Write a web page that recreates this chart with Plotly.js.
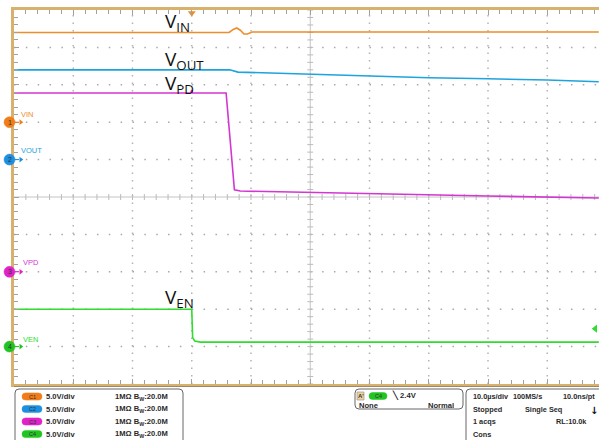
<!DOCTYPE html>
<html><head><meta charset="utf-8">
<script src="https://cdn.plot.ly/plotly-3.0.1.min.js"></script>
<style>html,body{margin:0;padding:0;background:#fff}#chart{width:599px;height:440px}</style>
</head><body><div id="chart"></div>
<script>
// ---- data: time in µs (trigger at 0), voltages in V ----
const tVin  = [-30, 6.3, 7.0, 7.6, 8.2, 8.8, 9.4, 10.2, 68.7];
const vVin  = [12.0, 12.0, 12.4, 12.6, 12.3, 11.8, 11.8, 12.05, 12.05];
const tVout = [-30, 6.4, 7.8, 18.3, 30.1, 40.0, 50.0, 60.0, 68.7];
const vVout = [12.0, 12.0, 11.7, 11.45, 11.2, 10.95, 10.8, 10.65, 10.4];
const tVpd  = [-30, -0.15, 0, 0.15, 5.8, 7.2, 8.2, 18.3, 33.5, 50.0, 68.7];
const vVpd  = [23.9, 23.9, 24.3, 23.9, 23.9, 10.95, 10.8, 10.67, 10.4, 10.13, 9.87];
const tVen  = [-30, 0, 0.15, 0.5, 1.5, 68.7];
const vVen  = [5.0, 5.0, 1.2, 0.75, 0.6, 0.6];
const chNames = ['VIN', 'VOUT', 'VPD', 'VEN'];
const chIds = ['C1', 'C2', 'C3', 'C4'];
const chNums = ['1', '2', '3', '4'];
const chScale = ['5.0V/div', '5.0V/div', '5.0V/div', '5.0V/div'];
const chInput = ['1MΩ B<sub>W</sub>:20.0M', '1MΩ B<sub>W</sub>:20.0M', '1MΩ B<sub>W</sub>:20.0M', '1MΩ B<sub>W</sub>:20.0M'];
const voltsPerDiv = 5;
const trigLevel = 2.4;
const trigText = '╲ 2.4V';
const statusRows = [['10.0µs/div', '100MS/s', '10.0ns/pt'], ['Stopped', 'Single Seq', ''], ['1 acqs', '', 'RL:10.0k'], ['Cons', '', '']];

// ---- style / layout ----
const colors = ['#ec8e2c', '#1ea3dd', '#d336d3', '#2fdc2f'];
const markColors = ['#f07d18', '#1d8fe0', '#e022c8', '#22c422'];
const offsets = [2, 1, -2, -4]; // ground reference in divisions
const X0 = -30, X1 = -30 + 585 / 5.925;
const PX = px => (px - 14) / 585;
const PY = py => (384 - py) / 374;
const tOfPx = px => (px - 13.75) / 5.925 - 30;
const pyOfDiv = d => 197 - d * 37.4;
const tan = '#d8b26c';

const series = [[tVin, vVin], [tVout, vVout], [tVpd, vVpd], [tVen, vVen]];
const traces = series.map((s, i) => ({
  x: s[0], y: s[1].map(v => offsets[i] + v / voltsPerDiv),
  mode: 'lines', line: {color: colors[i], width: 1.6}, hoverinfo: 'skip', showlegend: false
}));
traces.push({
  x: chNames.map(() => tOfPx(20.5)), y: offsets, mode: 'markers', cliponaxis: false,
  marker: {symbol: 'triangle-right', size: 5, color: markColors}, hoverinfo: 'skip', showlegend: false
});
// trigger markers
traces.push({
  x: [0], y: [5 - 3 / 37.4], mode: 'markers', cliponaxis: false,
  marker: {symbol: 'triangle-down', size: 7, color: colors[0]}, hoverinfo: 'skip', showlegend: false
});
traces.push({
  x: [tOfPx(595)], y: [offsets[3] + trigLevel / voltsPerDiv], mode: 'markers', cliponaxis: false,
  marker: {symbol: 'triangle-left', size: 7, color: colors[3]}, hoverinfo: 'skip', showlegend: false
});

const shapes = [];
// dotted grid
[-20, -10, 0, 10, 30, 40, 50, 60].forEach(t => shapes.push({type: 'line', xref: 'x', yref: 'y', x0: t, x1: t, y0: -5, y1: 5,
  line: {color: '#b4b4b4', width: 1.5, dash: '1.5px,6px'}, layer: 'below'}));
[-4, -3, -2, -1, 1, 2, 3, 4].forEach(d => shapes.push({type: 'line', xref: 'x', yref: 'y', x0: X0, x1: X1, y0: d, y1: d,
  line: {color: '#a8a8a8', width: 1.5, dash: '1.5px,10.35px'}, layer: 'below'}));
// center axes
shapes.push({type: 'line', xref: 'x', yref: 'y', x0: 20, x1: 20, y0: -5, y1: 5, line: {color: '#c4c4c4', width: 1}, layer: 'below'});
shapes.push({type: 'line', xref: 'x', yref: 'y', x0: X0, x1: X1, y0: 0, y1: 0, line: {color: '#c4c4c4', width: 1}, layer: 'below'});
for (let k = -25; k <= 25; k++) shapes.push({type: 'line', xref: 'x', yref: 'y', x0: 19.5, x1: 20.5, y0: k * 0.2, y1: k * 0.2, line: {color: '#bbb', width: 1}, layer: 'below'});
for (let t = -28; t < X1; t += 2) shapes.push({type: 'line', xref: 'x', yref: 'y', x0: t, x1: t, y0: -0.08, y1: 0.08, line: {color: '#bbb', width: 1}, layer: 'below'});
// channel ground markers: stems and circles
offsets.forEach((o, i) => {
  const py = pyOfDiv(o);
  shapes.push({type: 'line', xref: 'paper', yref: 'paper', x0: PX(14), x1: PX(19), y0: PY(py), y1: PY(py), line: {color: markColors[i], width: 1}});
  shapes.push({type: 'circle', xref: 'paper', yref: 'paper', x0: PX(4), x1: PX(15), y0: PY(py - 5.5), y1: PY(py + 5.5), fillcolor: markColors[i], line: {color: markColors[i], width: 0.5}});
});

// helpers for bottom panel (pixel -> paper)
const P = (x, y) => PX(x) + ',' + PY(y);
function rr(x0, y0, x1, y1, r) {
  return 'M' + P(x0 + r, y0) + ' L' + P(x1 - r, y0) + ' Q' + P(x1, y0) + ' ' + P(x1, y0 + r) +
    ' L' + P(x1, y1 - r) + ' Q' + P(x1, y1) + ' ' + P(x1 - r, y1) + ' L' + P(x0 + r, y1) +
    ' Q' + P(x0, y1) + ' ' + P(x0, y1 - r) + ' L' + P(x0, y0 + r) + ' Q' + P(x0, y0) + ' ' + P(x0 + r, y0) + ' Z';
}
// bottom line under frame
shapes.push({type: 'line', xref: 'paper', yref: 'paper', x0: PX(14), x1: PX(599), y0: PY(386.5), y1: PY(386.5), line: {color: '#9a8a6a', width: 1}});
// left box (open at bottom)
shapes.push({type: 'path', xref: 'paper', yref: 'paper',
  path: 'M' + P(15, 445) + ' L' + P(15, 393) + ' Q' + P(15, 389) + ' ' + P(19, 389) + ' L' + P(179, 389) + ' Q' + P(183, 389) + ' ' + P(183, 393) + ' L' + P(183, 445),
  line: {color: '#666', width: 1}});
// middle box
shapes.push({type: 'path', xref: 'paper', yref: 'paper', path: rr(355, 389, 463, 409, 4), line: {color: '#666', width: 1}});
// right box
shapes.push({type: 'path', xref: 'paper', yref: 'paper',
  path: 'M' + P(466, 445) + ' L' + P(466, 393) + ' Q' + P(466, 389) + ' ' + P(470, 389) + ' L' + P(605, 389),
  line: {color: '#666', width: 1}});
// channel pills
const rowsY = [396.5, 409, 421.5, 434];
chIds.forEach((c, i) => shapes.push({type: 'path', xref: 'paper', yref: 'paper', path: rr(22, rowsY[i] - 3.6, 42, rowsY[i] + 3.6, 3.6), fillcolor: markColors[i], line: {color: markColors[i], width: 0.5}}));
// trigger A' box and C4 pill
shapes.push({type: 'rect', xref: 'paper', yref: 'paper', x0: PX(357), x1: PX(364), y0: PY(392), y1: PY(400), fillcolor: '#efd39a', line: {color: '#999', width: 0.7}});
shapes.push({type: 'path', xref: 'paper', yref: 'paper', path: rr(369, 392.5, 387, 399.5, 3.5), fillcolor: markColors[3], line: {color: markColors[3], width: 0.5}});

const ann = [];
const A = (text, px, py, opt) => ann.push(Object.assign({text, x: PX(px), y: PY(py), xref: 'paper', yref: 'paper', xanchor: 'left', yanchor: 'middle', showarrow: false,
  font: {family: 'Liberation Sans', size: 7.6, color: '#2a2a2a', weight: 'bold'}}, opt || {}));
// big labels
const big = {font: {family: 'Open Sans', size: 19, color: '#111'}};
A('V<sub>IN</sub>', 163, 22, big);
A('V<sub>OUT</sub>', 163, 60, big);
A('V<sub>PD</sub>', 163, 84, big);
A('V<sub>EN</sub>', 163, 298, big);
// channel labels and ground numbers
const chLblPos = [[19, 114], [19, 151], [21, 262], [21, 339]];
chNames.forEach((n, i) => {
  A(n, chLblPos[i][0], chLblPos[i][1], {font: {family: 'Liberation Sans', size: 7.5, color: colors[i]}});
  A(chNums[i], 9.5, pyOfDiv(offsets[i]), {xanchor: 'center', font: {family: 'Liberation Sans', size: 7, color: '#333'}});
});
// left box rows
chIds.forEach((c, i) => {
  A(c, 32, rowsY[i], {xanchor: 'center', font: {family: 'Liberation Sans', size: 5.5, color: '#333'}});
  A(chScale[i], 44, rowsY[i]);
  A(chInput[i], 113, rowsY[i]);
});
// trigger box
A("A'", 360.5, 396, {xanchor: 'center', font: {family: 'Liberation Sans', size: 6, color: '#333', weight: 'bold'}});
A('C4', 378, 396, {xanchor: 'center', font: {family: 'Liberation Sans', size: 5.5, color: '#333'}});
A(trigText, 390, 396);
A('None', 357, 405.5);
A('Normal', 426, 405.5);
// status box
const sFont = {font: {family: 'Liberation Sans', size: 7.3, color: '#2a2a2a', weight: 'bold'}};
statusRows.forEach((row, r) => {
  if (row[0]) A(row[0], 471, rowsY[r], sFont);
  if (row[1]) A(row[1], r === 0 ? 511 : 523, rowsY[r], sFont);
  if (row[2]) A(row[2], r === 0 ? 561 : 554, rowsY[r], sFont);
});
A('↓', 588, 410, {font: {family: 'DejaVu Sans', size: 10, color: '#111', weight: 'bold'}});

const layout = {
  width: 599, height: 440,
  margin: {l: 14, r: 0, t: 10, b: 56},
  paper_bgcolor: '#ffffff', plot_bgcolor: '#ffffff',
  showlegend: false,
  xaxis: {range: [X0, X1], showgrid: false, zeroline: false, showticklabels: false,
    showline: true, linecolor: tan, linewidth: 3, mirror: 'ticks',
    ticks: 'inside', tick0: -30, dtick: 10, ticklen: 5, tickcolor: '#a0a0a0', tickwidth: 1,
    minor: {ticks: 'inside', tick0: -30, dtick: 2, ticklen: 4, tickcolor: '#a0a0a0', showgrid: false}},
  yaxis: {range: [-5, 5], showgrid: false, zeroline: false, showticklabels: false,
    showline: true, linecolor: tan, linewidth: 3, mirror: false,
    ticks: 'inside', tick0: 0, dtick: 1, ticklen: 5, tickcolor: '#a0a0a0', tickwidth: 1,
    minor: {ticks: 'inside', dtick: 0.2, ticklen: 4, tickcolor: '#a0a0a0', showgrid: false}},
  shapes, annotations: ann
};
Plotly.newPlot('chart', traces, layout, {displayModeBar: false, staticPlot: true});
</script></body></html>
